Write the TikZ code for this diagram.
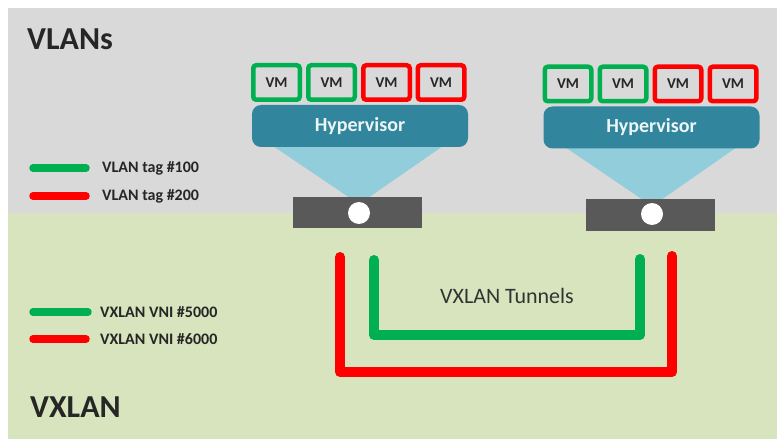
\documentclass[tikz,border=0pt]{standalone}
\usepackage{fontspec}
\setmainfont{Carlito}
\definecolor{bggray}{HTML}{D9D9D9}
\definecolor{bggreen}{HTML}{D7E4BD}
\definecolor{vgreen}{HTML}{00B050}
\definecolor{vred}{HTML}{FF0000}
\definecolor{hvteal}{HTML}{31859C}
\definecolor{cone}{HTML}{92CDDC}
\definecolor{swgray}{HTML}{595959}
\begin{document}
\begin{tikzpicture}[x=1pt,y=-1pt,
  vmbox/.style={draw=#1, line width=4.5pt, fill=bggray, rounded corners=3pt,
    minimum width=46.5pt, minimum height=34.5pt, inner sep=0pt,
    font=\fontsize{15}{15}\selectfont\bfseries, text=black!85},
  hyper/.style={fill=hvteal, rounded corners=9pt, minimum width=216pt,
    minimum height=42pt, inner sep=0pt, text=white!92!hvteal,
    font=\fontsize{20}{20}\selectfont\bfseries},
  switchbox/.style={fill=swgray, minimum width=129pt, minimum height=31pt, inner sep=0pt},
  port/.style={circle, fill=white, minimum size=22pt, inner sep=0pt},
  tunnel/.style={line width=10pt, line cap=round, line join=round},
  legline/.style={line width=7.5pt, line cap=round},
  legtext/.style={anchor=west, inner sep=0pt, font=\fontsize{16}{16}\selectfont\bfseries, text=black!85},
  title/.style={anchor=base west, inner sep=0pt, font=\fontsize{32}{32}\selectfont\bfseries, text=black!85}
]
\useasboundingbox (0,0) rectangle (777,441);
% backgrounds
\fill[bggray] (8,8) rectangle (777,213);
\fill[bggreen] (8,213) rectangle (777,439);

% titles
\node[title] (tv) at (27,50) {VLANs};
\node[title] (tx) at (30,417) {VXLAN};

% legend
\coordinate (l1a) at (33,168); \coordinate (l1b) at (86,168);
\coordinate (l2a) at (33,196); \coordinate (l2b) at (86,196);
\coordinate (l3a) at (33,312); \coordinate (l3b) at (88,312);
\coordinate (l4a) at (33,339); \coordinate (l4b) at (86,339);
\draw[legline, vgreen] (l1a) -- (l1b);
\draw[legline, vred] (l2a) -- (l2b);
\draw[legline, vgreen] (l3a) -- (l3b);
\draw[legline, vred] (l4a) -- (l4b);
\node[legtext] (t1) at (102,168) {VLAN tag \#100};
\node[legtext] (t2) at (102,196) {VLAN tag \#200};
\node[legtext] (t3) at (100,312) {VXLAN VNI \#5000};
\node[legtext] (t4) at (100,339) {VXLAN VNI \#6000};

% left host
\fill[cone] (273,146) -- (443,146) -- (368,198) -- (350,198) -- cycle;
\node[hyper] (h1) at (360,126) {Hypervisor};
\node[vmbox=vgreen] (a1) at (276.5,82.5) {VM};
\node[vmbox=vgreen] (a2) at (331.5,82.5) {VM};
\node[vmbox=vred] (a3) at (386.5,82.5) {VM};
\node[vmbox=vred] (a4) at (441,82.5) {VM};
\node[switchbox] (s1) at (357.5,212.5) {};
\node[port] (p1) at (359,213) {};

% right host
\fill[cone] (565,147) -- (737,147) -- (661,200) -- (643,200) -- cycle;
\node[hyper] (h2) at (651.5,127.5) {Hypervisor};
\node[vmbox=vgreen] (b1) at (568,84) {VM};
\node[vmbox=vgreen] (b2) at (623,84) {VM};
\node[vmbox=vred] (b3) at (678,84) {VM};
\node[vmbox=vred] (b4) at (733,84) {VM};
\node[switchbox] (s2) at (650,215) {};
\node[port] (p2) at (652,214) {};

% tunnels
\coordinate (r1) at (340,257); \coordinate (r2) at (672,256);
\coordinate (g1) at (374,260); \coordinate (g2) at (640,259);
\draw[tunnel, vred] (r1) |- (506,372) -| (r2);
\draw[tunnel, vgreen] (g1) |- (506,335) -| (g2);
\node[font=\fontsize{22}{22}\selectfont, text=black!80] (tt) at (507,296) {VXLAN Tunnels};
\end{tikzpicture}
\end{document}
